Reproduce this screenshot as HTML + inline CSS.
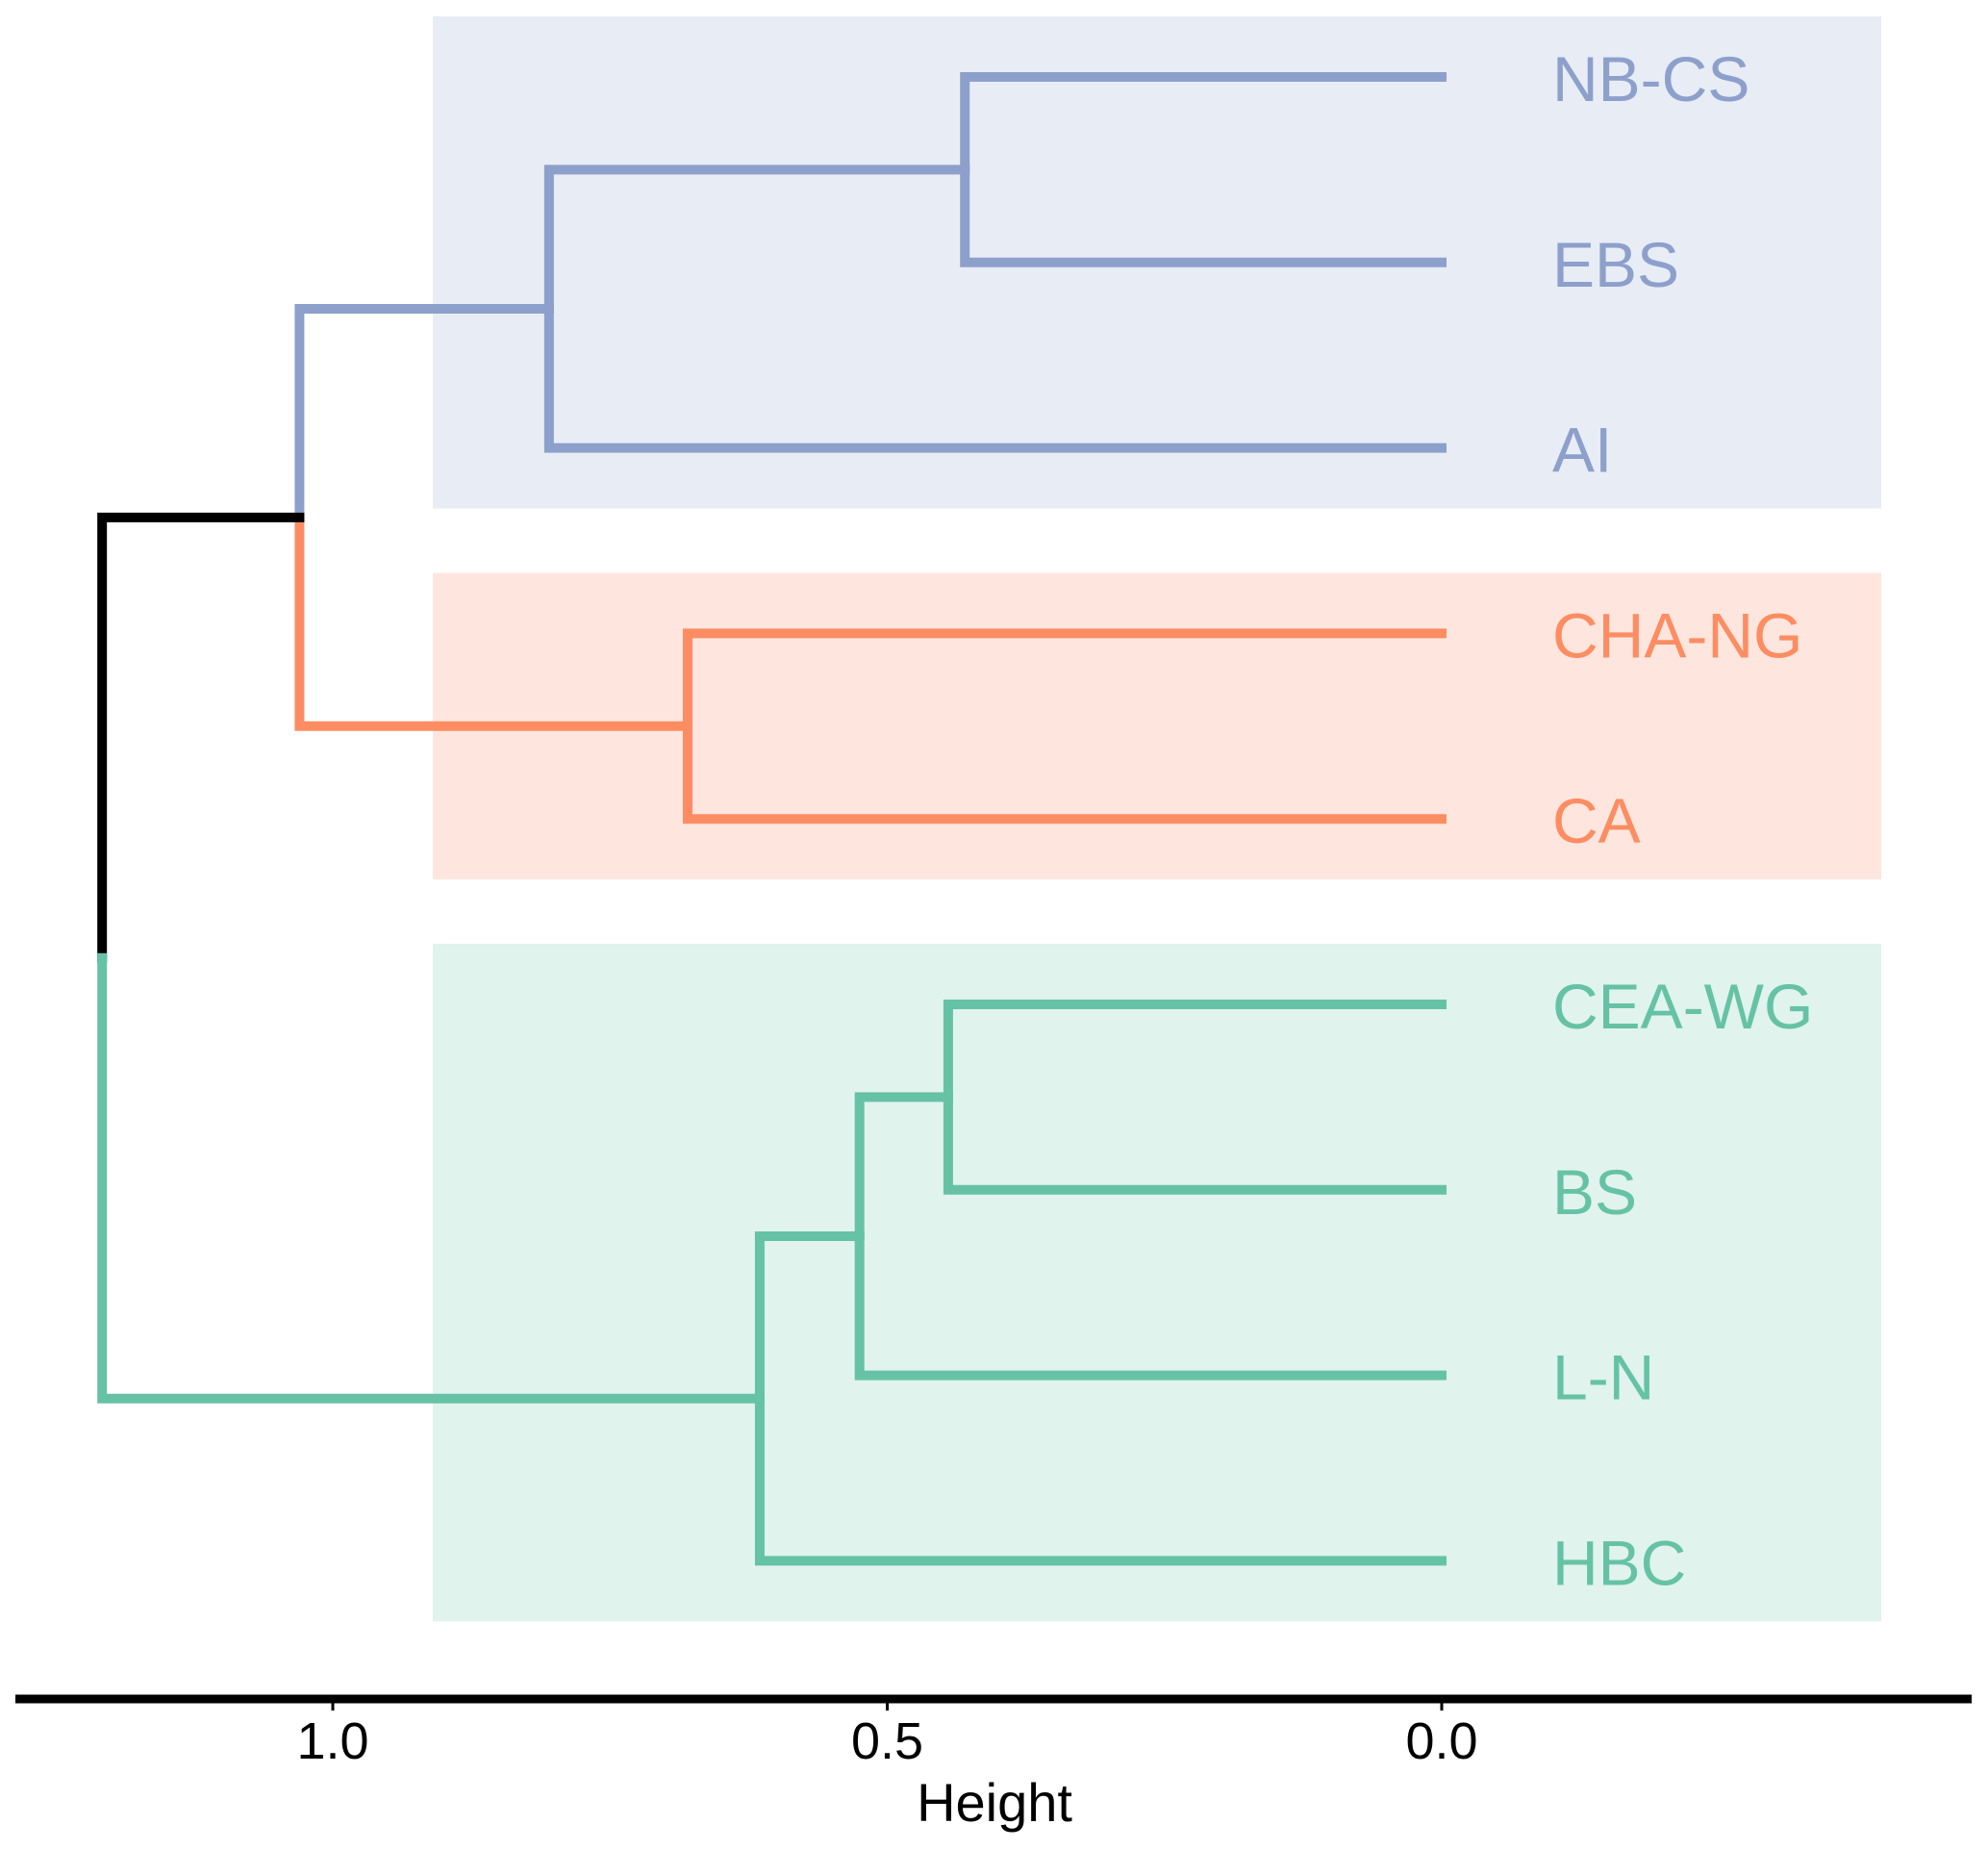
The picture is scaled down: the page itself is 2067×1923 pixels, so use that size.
<!DOCTYPE html>
<html><head><meta charset="utf-8"><style>
html,body{margin:0;padding:0;background:#fff;}
svg{display:block;font-family:"Liberation Sans",Arial,sans-serif;}
</style></head><body>
<svg id="chart" width="2067" height="1923" viewBox="0 0 2067 1923" xmlns="http://www.w3.org/2000/svg">
<g id="bg"></g><g id="links"></g><g id="labels"></g><g id="axis"></g>
</svg>
<script>
const leaves = ["NB-CS","EBS","AI","CHA-NG","CA","CEA-WG","BS","L-N","HBC"];
const leafCluster = [0,0,0,1,1,2,2,2,2];
// merges: leaves are indices 0..8, internal nodes are 9+
const mergeA = [0, 3, 5, 9, 11, 13, 12, 15];
const mergeB = [1, 4, 6, 2, 7, 8, 10, 14];
const mergeH = [0.43, 0.68, 0.445, 0.805, 0.525, 0.615, 1.03, 1.208];
const ticks = [1.0, 0.5, 0.0];
const tickLabels = ["1.0","0.5","0.0"];
const clusterColors = ["#8DA0CB","#FC8D62","#66C2A5"];
const clusterBg = ["#E8ECF5","#FEE6DF","#E0F3EC"];

const NS = "http://www.w3.org/2000/svg";
const xScale = h => 1499 - h * 1153;
const yScale = i => 80 + i * 192.8;
function mk(tag, attrs, parent){ const e=document.createElementNS(NS,tag); for(const k in attrs) e.setAttribute(k,attrs[k]); parent.appendChild(e); return e; }

const bg=document.getElementById('bg'), links=document.getElementById('links'), labels=document.getElementById('labels'), axis=document.getElementById('axis');

const clusterNames=["blue","orange","green"];
for(let c=0;c<3;c++){
  const idx=leafCluster.map((v,i)=>v===c?i:-1).filter(i=>i>=0);
  const y0=yScale(idx[0])-63, y1=yScale(idx[idx.length-1])+63;
  const r=mk('rect',{x:450,y:y0,width:1506,height:y1-y0,fill:clusterBg[c]},bg);
  
  
}

const nodeX=[], nodeY=[], nodeC=[];
leaves.forEach((l,i)=>{ nodeX[i]=xScale(0); nodeY[i]=yScale(i); nodeC[i]=leafCluster[i]; });
const n=leaves.length;
for(let m=0;m<mergeA.length-1;m++){
  const a=mergeA[m], b=mergeB[m], id=n+m;
  nodeX[id]=xScale(mergeH[m]); nodeY[id]=(nodeY[a]+nodeY[b])/2;
  nodeC[id]= nodeC[a]===nodeC[b] ? nodeC[a] : -1;
}
const rootA=mergeA[mergeA.length-1], rootB=mergeB[mergeB.length-1];
const rootX=xScale(mergeH[mergeH.length-1]);
const sw=10;
function colorFor(c){ return c<0 ? "#000000" : clusterColors[c]; }
function drawLink(px, py, cid, name){
  const col = colorFor(nodeC[cid]);
  const p=mk('path',{d:`M${px},${py} V${nodeY[cid]} H${nodeX[cid]}`,fill:'none',stroke:col,'stroke-width':sw,'stroke-linecap':'square','stroke-linejoin':'miter'},links);
  
  
}
for(let m=0;m<mergeA.length-1;m++){
  const id=n+m;
  drawLink(nodeX[id], nodeY[id], mergeA[m], 'branch-' + m + '-a');
  drawLink(nodeX[id], nodeY[id], mergeB[m], 'branch-' + m + '-b');
}
const rootY=(nodeY[rootA]+nodeY[rootB])/2;
const rp1=mk('path',{d:`M${rootX},${rootY} V${nodeY[rootA]} H${nodeX[rootA]}`,fill:'none',stroke:'#000','stroke-width':sw,'stroke-linecap':'square'},links);


const rp2=mk('path',{d:`M${rootX},${rootY} V${nodeY[rootB]} H${nodeX[rootB]}`,fill:'none',stroke:clusterColors[2],'stroke-width':sw,'stroke-linecap':'square'},links);



leaves.forEach((l,i)=>{
  const t=mk('text',{x:1614,y:yScale(i)+25,'font-size':66,fill:clusterColors[leafCluster[i]]},labels);
  t.textContent=l;
  
  
});

const al=mk('line',{x1:16,x2:2050,y1:1766,y2:1766,stroke:'#000','stroke-width':9},axis);


ticks.forEach((v,i)=>{
  const tk=mk('line',{x1:xScale(v),x2:xScale(v),y1:1766,y2:1778,stroke:'#000','stroke-width':3},axis);
  
  
  const tl=mk('text',{x:xScale(v),y:1828,'font-size':54,'text-anchor':'middle',fill:'#000'},axis);
  tl.textContent=tickLabels[i];
  
  
});
const title=mk('text',{x:1034,y:1893,'font-size':56,'text-anchor':'middle',fill:'#000'},axis);
title.textContent='Height';


</script>
</body></html>
